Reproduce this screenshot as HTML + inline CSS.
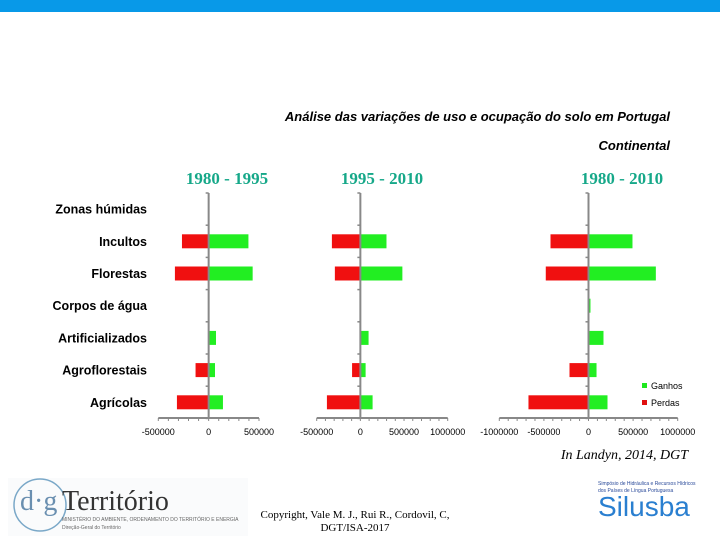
<!DOCTYPE html>
<html><head><meta charset="utf-8"><style>
html,body{margin:0;padding:0;background:#fff;}
svg{display:block;}
</style></head><body>
<svg id="chart" width="720" height="540" viewBox="0 0 720 540" xmlns="http://www.w3.org/2000/svg" font-family="Liberation Sans, sans-serif">
<rect x="0" y="0" width="720" height="12" fill="#0899e8"/>
<text x="670" y="121" text-anchor="end" font-size="13" font-style="italic" font-weight="600" fill="#000">Análise das variações de uso e ocupação do solo em Portugal</text>
<text x="670" y="150" text-anchor="end" font-size="13" font-style="italic" font-weight="600" fill="#000">Continental</text>
<g id="labels"></g>
<g id="panels"></g>
<g>
<rect x="642" y="383" width="5" height="5" fill="#1ee81e"/>
<text x="651" y="389" font-size="9" fill="#000">Ganhos</text>
<rect x="642" y="400" width="5" height="5" fill="#e01010"/>
<text x="651" y="406" font-size="9" fill="#000">Perdas</text>
</g>
<text x="688" y="459" text-anchor="end" font-size="14" font-style="italic" font-family="Liberation Serif, serif">In Landyn, 2014, DGT</text>
<g>
<rect x="8" y="478" width="240" height="58" fill="#fafbfc"/>
<circle cx="40" cy="505" r="26" fill="none" stroke="#7aa8c8" stroke-width="1.5"/>
<text x="20" y="510" font-size="28" font-family="Liberation Serif, serif" fill="#6a8fb0">d·g</text>
<text x="62" y="510" font-size="28" font-family="Liberation Serif, serif" fill="#333">Território</text>
<text x="62" y="521" font-size="5" fill="#666">MINISTÉRIO DO AMBIENTE, ORDENAMENTO DO TERRITÓRIO E ENERGIA</text>
<text x="62" y="529" font-size="5" fill="#666">Direção-Geral do Território</text>
</g>
<text x="355" y="518" text-anchor="middle" font-size="11" font-family="Liberation Serif, serif">Copyright, Vale M. J., Rui R., Cordovil, C,</text>
<text x="355" y="531" text-anchor="middle" font-size="11" font-family="Liberation Serif, serif">DGT/ISA-2017</text>
<g>
<text x="598" y="485" font-size="5" fill="#2a4a9a">Simpósio de Hidráulica e Recursos Hídricos</text>
<text x="598" y="492" font-size="5" fill="#2a4a9a">dos Países de Língua Portuguesa</text>
<text x="598" y="516" font-size="28" fill="#2a7fd0">Silusba</text>
</g>
</svg>
<script>
const categories = ["Zonas húmidas","Incultos","Florestas","Corpos de água","Artificializados","Agroflorestais","Agrícolas"];
const panelTitles = ["1980 - 1995","1995 - 2010","1980 - 2010"];
const gains1 = [0, 395000, 437000, 0, 73000, 63000, 142000];
const losses1 = [0, -265000, -335000, 0, 0, -130000, -315000];
const gains2 = [0, 299000, 481000, 0, 94000, 60000, 140000];
const losses2 = [0, -326000, -292000, 0, 0, -95000, -383000];
const gains3 = [0, 493000, 755000, 22000, 168000, 90000, 213000];
const losses3 = [0, -426000, -479000, 0, 0, -213000, -673000];
const ticks1 = [-500000, 0, 500000];
const ticks2 = [-500000, 0, 500000, 1000000];
const ticks3 = [-1000000, -500000, 0, 500000, 1000000];

const NS = "http://www.w3.org/2000/svg";
function mk(tag, attrs, parent){const e=document.createElementNS(NS,tag);for(const k in attrs)e.setAttribute(k,attrs[k]);parent.appendChild(e);return e;}
const rowTop=193, rowH=32.2, axisY=418, barH=14;
function yCenter(i){return rowTop+rowH*(i+0.5);}
const labelsG=document.getElementById('labels');
categories.forEach((c,i)=>{
  const t=mk('text',{x:147,y:yCenter(i)+4.5,'text-anchor':'end','font-size':12.5,'font-weight':'bold',fill:'#000'},labelsG);
  
  
  t.textContent=c;
});
const panelsG=document.getElementById('panels');
const panels=[
 {x0:158.3,x1:259,min:-500000,max:500000,ticks:ticks1,g:gains1,l:losses1,tx:227},
 {x0:316.7,x1:447.7,min:-500000,max:1000000,ticks:ticks2,g:gains2,l:losses2,tx:382},
 {x0:499.3,x1:677.7,min:-1000000,max:1000000,ticks:ticks3,g:gains3,l:losses3,tx:622}
];
panels.forEach((p,pi)=>{
  const g=mk('g',{},panelsG);
  
  
  const sx=v=>p.x0+(v-p.min)/(p.max-p.min)*(p.x1-p.x0);
  const title=mk('text',{x:p.tx,y:184,'text-anchor':'middle','font-size':17,'font-weight':'bold','font-family':'Liberation Serif, serif',fill:'#16a889'},g);
  
  
  title.textContent=panelTitles[pi];
  categories.forEach((c,i)=>{
    const yc=yCenter(i);
    if(p.l[i]<0){
      const r=mk('rect',{x:sx(p.l[i]),y:yc-barH/2,width:sx(0)-sx(p.l[i]),height:barH,fill:'#f01010'},g);
      
      
    }
    if(p.g[i]>0){
      const r=mk('rect',{x:sx(0),y:yc-barH/2,width:sx(p.g[i])-sx(0),height:barH,fill:'#22ee22'},g);
      
      
    }
  });
  const z=sx(0);
  const va=mk('line',{x1:z,y1:rowTop,x2:z,y2:axisY,stroke:'#888','stroke-width':2},g);
  
  
  for(let i=0;i<=categories.length;i++){
    const y=rowTop+rowH*i;
    mk('line',{x1:z-3,y1:y,x2:z,y2:y,stroke:'#888','stroke-width':1.5},g);
  }
  const ha=mk('line',{x1:p.x0,y1:axisY,x2:p.x1,y2:axisY,stroke:'#888','stroke-width':2},g);
  
  
  const step=(p.ticks[1]-p.ticks[0])/5;
  for(let v=p.min;v<=p.max+1;v+=step){
    mk('line',{x1:sx(v),y1:axisY,x2:sx(v),y2:axisY+3,stroke:'#888','stroke-width':1},g);
  }
  p.ticks.forEach(v=>{
    const t=mk('text',{x:sx(v),y:axisY+17,'text-anchor':'middle','font-size':9,fill:'#000'},g);
    
    
    t.textContent=String(v);
  });
});
</script>
</body></html>
